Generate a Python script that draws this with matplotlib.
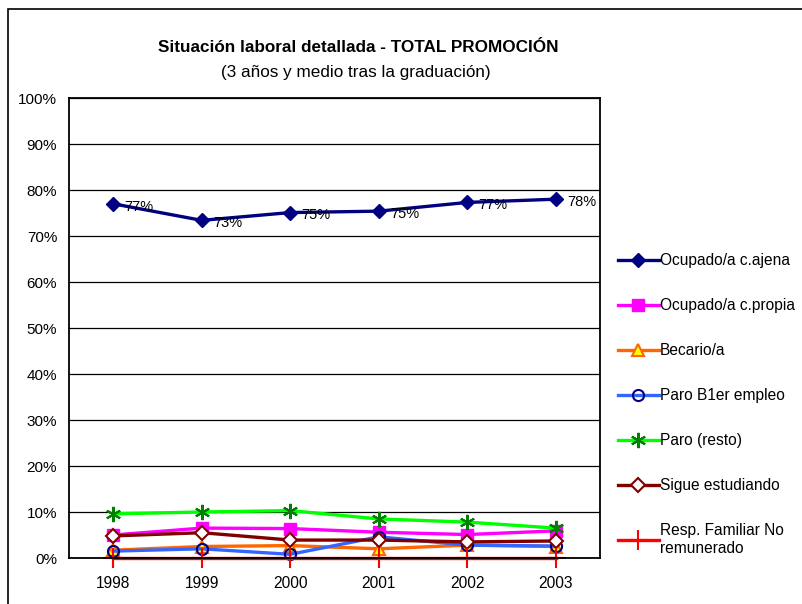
import matplotlib
matplotlib.use("Agg")
import matplotlib.pyplot as plt
from matplotlib.patches import Rectangle
from matplotlib.ticker import MultipleLocator, FuncFormatter

plt.rcParams['font.family'] = ['Liberation Sans', 'DejaVu Sans']

years = ['1998', '1999', '2000', '2001', '2002', '2003']
ocupado_ajena = [77.0, 73.4, 75.1, 75.4, 77.3, 78.0]
ocupado_propia = [5.0, 6.5, 6.4, 5.6, 5.1, 5.9]
becario = [1.7, 2.5, 2.7, 2.0, 2.8, 2.5]
paro_1er = [1.5, 2.0, 0.8, 4.6, 2.8, 2.6]
paro_resto = [9.6, 10.0, 10.3, 8.5, 7.8, 6.5]
sigue_estudiando = [4.8, 5.5, 3.9, 3.9, 3.5, 3.7]
resp_familiar = [0.0, 0.0, 0.0, 0.0, 0.0, 0.0]
ajena_labels = ['77%', '73%', '75%', '75%', '77%', '78%']

title = 'Situación laboral detallada - TOTAL PROMOCIÓN'
subtitle = '(3 años y medio tras la graduación)'

fig = plt.figure(figsize=(8.02, 6.04), dpi=100)
W, H = 802, 604
ax = fig.add_axes([69 / W, 1 - 558 / H, (600 - 69) / W, (558 - 98) / H])

x = list(range(len(years)))
lw = 2.4
series = [
    (ocupado_ajena, 'Ocupado/a c.ajena', dict(color='#000080', marker='D', ms=7,
                                               mfc='#000080', mec='#000080')),
    (ocupado_propia, 'Ocupado/a c.propia', dict(color='#FF00FF', marker='s', ms=8,
                                                 mfc='#FF00FF', mec='#FF00FF')),
    (becario, 'Becario/a', dict(color='#FF6600', marker='^', ms=8,
                                mfc='#FFFF00', mec='#FF6600', mew=1.5)),
    (paro_1er, 'Paro B1er empleo', dict(color='#3366FF', marker='o', ms=8,
                                        mfc='none', mec='#000080', mew=1.5)),
    (paro_resto, 'Paro (resto)', dict(color='#00FF00', marker=(6, 2, 0), ms=11,
                                      mfc='#008000', mec='#008000', mew=1.5)),
    (sigue_estudiando, 'Sigue estudiando', dict(color='#800000', marker='D', ms=7,
                                                mfc='white', mec='#800000', mew=1.5)),
    (resp_familiar, 'Resp. Familiar No\nremunerado', dict(color='#FF0000', marker='+', ms=14,
                                                         mfc='#FF0000', mec='#FF0000', mew=1.5)),
]
handles = []
for vals, label, kw in series:
    h, = ax.plot(x, vals, lw=lw, label=label, clip_on=False, **kw)
    handles.append(h)

for xi, v, lab in zip(x, ocupado_ajena, ajena_labels):
    ax.annotate(lab, (xi, v), xytext=(8, -2), textcoords='offset points',
                ha='left', va='center', fontsize=10.5, color='black')

ax.set_xlim(-0.5, len(years) - 0.5)
ax.set_ylim(0, 100)
ax.set_xticks(x)
ax.set_xticklabels(years, fontsize=11.2)
ax.yaxis.set_major_locator(MultipleLocator(10))
ax.yaxis.set_major_formatter(FuncFormatter(lambda v, p: f'{int(round(v))}%'))
ax.tick_params(axis='y', labelsize=11, length=0, pad=8.5)
ax.tick_params(axis='x', length=0, pad=13)
ax.grid(axis='y', color='black', lw=0.9)
ax.set_axisbelow(True)
for s in ax.spines.values():
    s.set_linewidth(1.3)
    s.set_color('black')

fig.text(358 / W, 1 - 48 / H, title, ha='center', va='center', fontsize=12.3, fontweight='bold')
fig.text(356 / W, 1 - 72 / H, subtitle, ha='center', va='center', fontsize=12.3)

leg = fig.legend(handles=handles, loc='upper left', bbox_to_anchor=(612 / W, 1 - 247 / H),
                 frameon=False, fontsize=11.2, handlelength=2.6, handletextpad=0.1,
                 labelspacing=1.93, borderaxespad=0)

fig.patches.append(Rectangle((8 / W, -0.1), 1.2, 1 - 9 / H + 0.1, transform=fig.transFigure,
                             fill=False, edgecolor='black', lw=1.2))

fig.savefig('out.png', dpi=100)
